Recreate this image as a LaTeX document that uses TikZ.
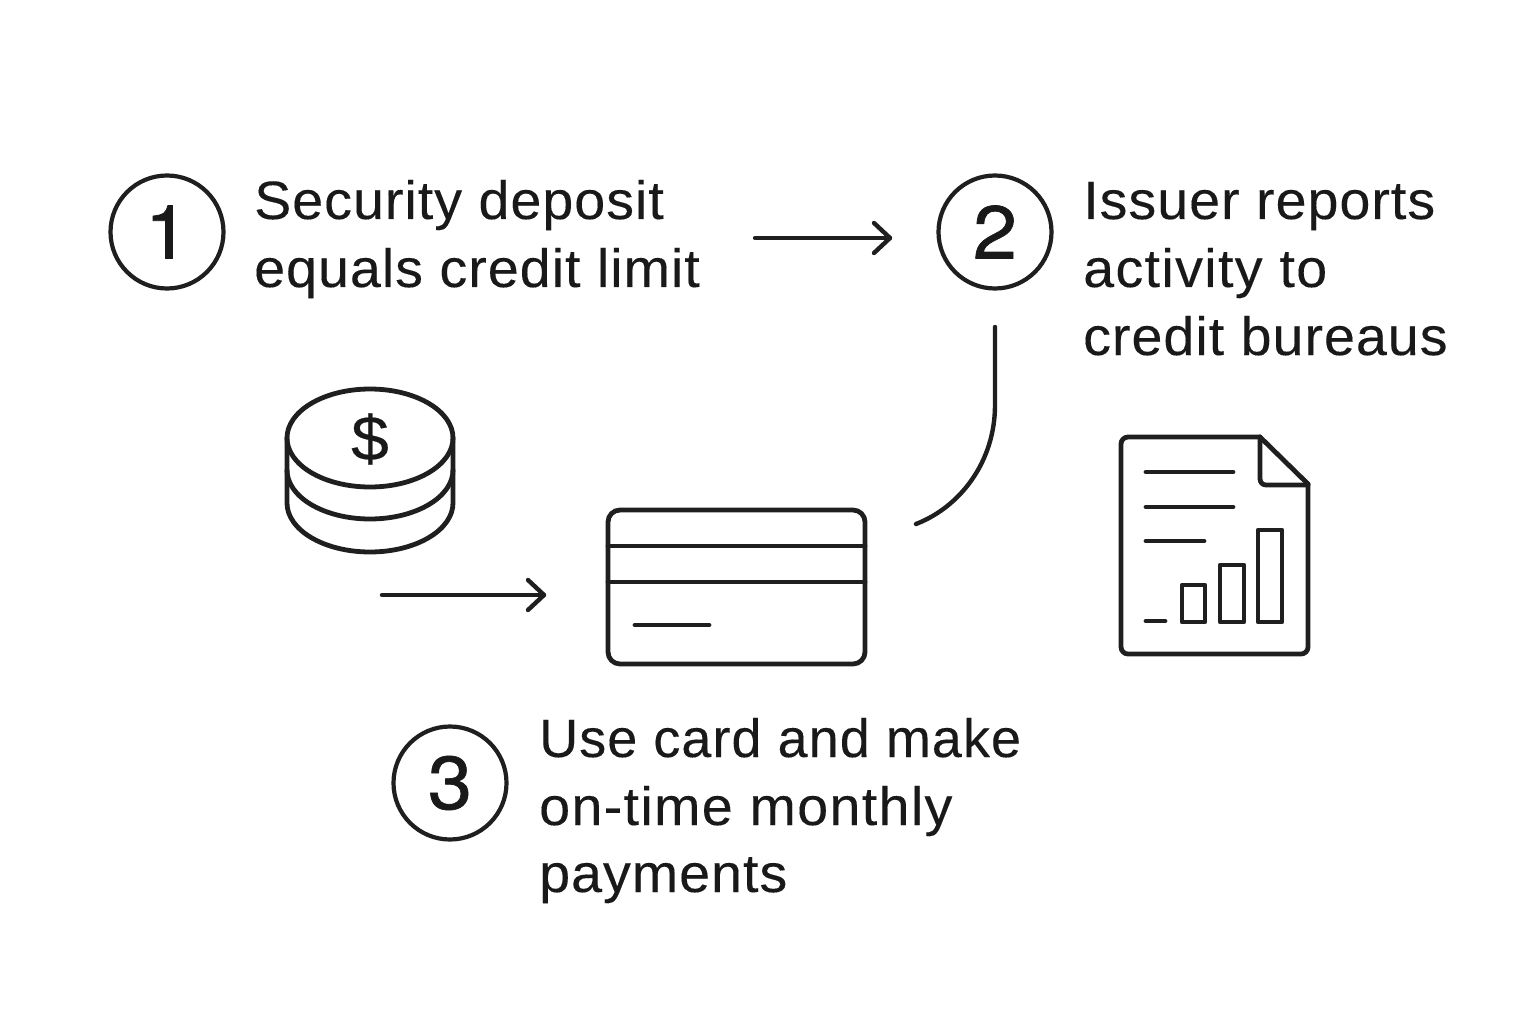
\documentclass[tikz,border=0pt]{standalone}
\usepackage{fontspec}
\setmainfont{Liberation Sans}
\newfontfamily\widefont[FakeStretch=1.03,LetterSpace=1.85,FakeBold=0.2]{Liberation Sans}
\newfontfamily\narrowfont[FakeStretch=1.0,LetterSpace=1.95,FakeBold=0.2]{Liberation Sans}
\newfontfamily\extrafont[FakeStretch=1.03,LetterSpace=2.5,FakeBold=0.2]{Liberation Sans}
\newfontfamily\numfont[FakeStretch=1.06,FakeBold=0.9]{TeX Gyre Heros}
\newfontfamily\dollarfont[FakeStretch=1.08,FakeBold=0.3]{Liberation Sans}
\begin{document}
\begin{tikzpicture}[x=1pt,y=-1pt,line cap=round,line join=round,
  ink/.style={draw=black!88,line width=4.8pt},
  thin ink/.style={draw=black!88,line width=4.4pt},
  badge/.style={circle,draw=black!88,line width=4.2pt,minimum size=113pt,inner sep=0pt,font=\numfont\fontsize{75}{75}\selectfont,text=black!90},
  lbl/.style={anchor=base west,inner sep=0pt,font=\widefont\fontsize{54}{54}\selectfont,text=black!90}]
\useasboundingbox (0,0) rectangle (1536,1024);
\node[badge] (n1) at (167,232) {1};
\node[badge] (n2) at (995,232) {2};
\node[badge] (n3) at (450,783) {3};
\node[lbl] (t1a) at (254,219) {Security deposit};
\node[lbl] (t1b) at (254,287) {equals credit limit};
\node[lbl] (t2a) at (1083,219) {Issuer reports};
\node[lbl,font=\extrafont\fontsize{54}{54}\selectfont] (t2b) at (1083,287) {activity to};
\node[lbl] (t2c) at (1083,355) {credit bureaus};
\node[lbl,font=\narrowfont\fontsize{54}{54}\selectfont] (t3a) at (539,757) {Use card and make};
\node[lbl,font=\extrafont\fontsize{54}{54}\selectfont] (t3b) at (539,825) {on-time monthly};
\node[lbl] (t3c) at (539,892) {payments};
% connectors
\coordinate (a1s) at (755,238); \coordinate (a1e) at (890,238);
\coordinate (a2s) at (382,595); \coordinate (a2e) at (544,595);
\coordinate (c1) at (995,327); \coordinate (c2) at (995,405); \coordinate (c3) at (916,524);
\draw[thin ink] (a1s) -- (a1e);
\draw[thin ink] (874,223) -- (a1e) -- (874,253);
\draw[thin ink] (a2s) -- (a2e);
\draw[thin ink] (528,580) -- (a2e) -- (528,610);
\draw[thin ink] (c1) -- (c2) .. controls (995,462) and (960,507) .. (c3);
% coins
\draw[ink] (370,438) ellipse [x radius=83,y radius=49];
\draw[ink] (287,438) -- (287,503) arc[start angle=180,end angle=0,x radius=83,y radius=49] -- (453,438);
\draw[ink] (287,470) arc[start angle=180,end angle=0,x radius=83,y radius=49];
\node[inner sep=0pt,font=\dollarfont\fontsize{63}{63}\selectfont,text=black!90] (dollar) at (370,439) {\$};
% card
\draw[ink,rounded corners=12pt] (608,510) rectangle (865,664);
\draw[ink] (608,546) -- (865,546);
\draw[ink] (608,582) -- (865,582);
\draw[ink] (635,625) -- (709,625);
% document
\draw[ink,rounded corners=7pt] (1260,437) -- (1121,437) -- (1121,654) -- (1308,654) -- (1308,484);
\draw[ink] (1260,437) -- (1308,484);
\draw[ink,rounded corners=6pt] (1260,437) -- (1260,485) -- (1308,485);
\draw[ink] (1146,472) -- (1233,472);
\draw[ink] (1146,507) -- (1233,507);
\draw[ink] (1146,541) -- (1204,541);
\draw[ink] (1146,621) -- (1165,621);
\draw[ink] (1182,585) rectangle (1205,622);
\draw[ink] (1220,565) rectangle (1244,622);
\draw[ink] (1258,530) rectangle (1282,622);
\end{tikzpicture}
\end{document}
